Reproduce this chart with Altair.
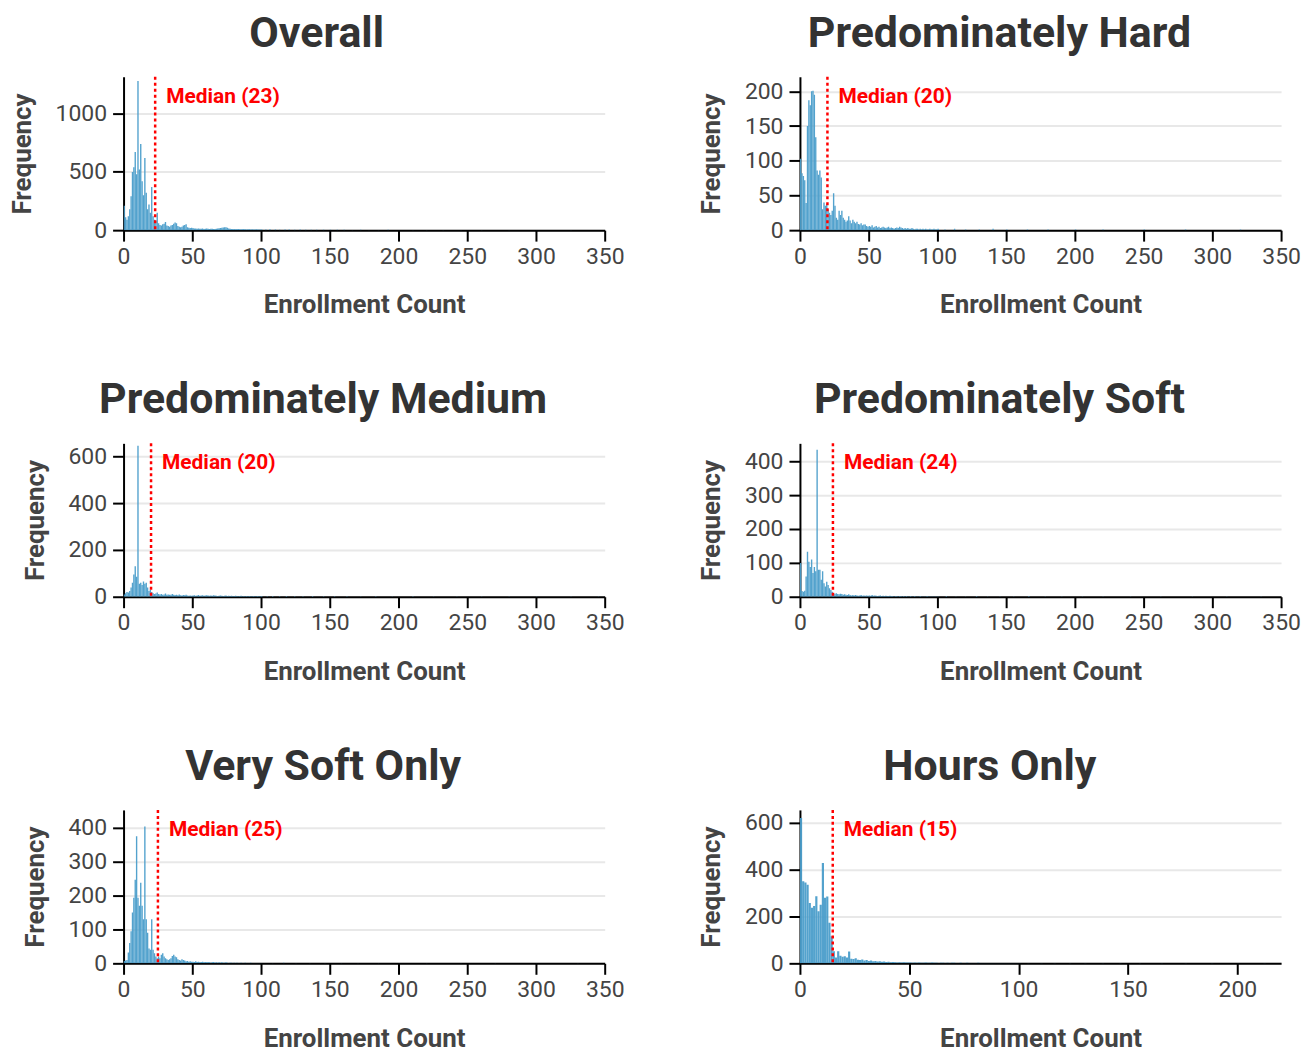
import altair as alt
import pandas as pd

# ---------------- data ----------------
titles = ["Overall", "Predominately Hard", "Predominately Medium",
          "Predominately Soft", "Very Soft Only", "Hours Only"]
medians = [23, 20, 20, 24, 25, 15]
x_max = [350, 350, 350, 350, 350, 220]
y_max = [1316, 221, 655, 453, 453, 655]
x_ticks_std = [0, 50, 100, 150, 200, 250, 300, 350]
x_ticks_hours = [0, 50, 100, 150, 200]
y_ticks = [
    [0, 500, 1000],
    [0, 50, 100, 150, 200],
    [0, 200, 400, 600],
    [0, 100, 200, 300, 400],
    [0, 100, 200, 300, 400],
    [0, 200, 400, 600],
]

# counts for enrollment values 0..49
overall_head = [210, 110, 90, 120, 180, 290, 500, 540, 670, 480,
                1280, 520, 740, 420, 300, 620, 320, 180, 220, 150,
                370, 120, 90, 80, 150, 60, 45, 40, 50, 55,
                70, 40, 35, 30, 40, 45, 55, 65, 60, 35,
                30, 25, 30, 40, 45, 50, 25, 20, 18, 20]
hard_head = [103, 82, 78, 72, 39, 150, 187, 180, 200, 201,
             195, 134, 86, 80, 86, 76, 30, 40, 35, 38,
             30, 25, 22, 28, 53, 35, 18, 15, 28, 22,
             28, 18, 15, 12, 14, 20, 14, 10, 15, 12,
             10, 12, 9, 8, 10, 7, 8, 8, 6, 5]
medium_head = [10, 15, 20, 18, 25, 40, 60, 95, 130, 85,
               645, 55, 60, 50, 65, 55, 60, 40, 25, 30,
               20, 15, 12, 14, 18, 12, 10, 12, 9, 10,
               14, 8, 10, 9, 8, 12, 8, 7, 9, 6,
               10, 6, 5, 7, 6, 8, 5, 4, 5, 4]
soft_head = [100, 17, 15, 18, 60, 133, 103, 88, 110, 70,
             88, 75, 434, 80, 80, 50, 75, 40, 30, 44,
             35, 25, 20, 15, 10, 9, 10, 8, 7, 9,
             8, 6, 7, 6, 5, 7, 5, 4, 5, 4,
             5, 4, 3, 4, 5, 3, 4, 3, 4, 3]
verysoft_head = [7, 8, 10, 32, 60, 95, 150, 194, 247, 375,
                 194, 170, 238, 170, 130, 404, 130, 90, 44, 40,
                 130, 40, 30, 20, 15, 20, 15, 25, 30, 20,
                 15, 12, 10, 12, 15, 22, 25, 20, 18, 12,
                 10, 8, 12, 10, 8, 6, 7, 5, 6, 5]
hours_head = [620, 350, 345, 335, 258, 237, 245, 286, 222, 250,
              428, 280, 285, 173, 116, 52, 25, 52, 32, 28,
              30, 25, 50, 20, 18, 22, 15, 14, 16, 12,
              14, 10, 12, 9, 10, 8, 9, 7, 8, 6,
              7, 5, 6, 5, 4, 5, 4, 5, 4, 3]

# counts for enrollment values 50..99
overall_tail = [18, 15, 14, 12, 15, 13, 12, 14, 11, 12,
                14, 12, 11, 13, 12, 10, 11, 12, 14, 16,
                18, 20, 22, 24, 26, 20, 15, 12, 11, 10,
                9, 8, 10, 9, 8, 7, 8, 9, 7, 6,
                7, 8, 6, 7, 6, 5, 7, 6, 5, 6]
hard_tail = [6, 5, 7, 4, 5, 6, 4, 5, 3, 4,
             5, 4, 3, 4, 5, 3, 4, 3, 2, 3,
             4, 3, 5, 4, 3, 2, 3, 2, 3, 2,
             2, 3, 2, 1, 2, 2, 1, 2, 1, 2,
             1, 2, 1, 1, 2, 1, 1, 2, 1, 1]
medium_tail = [5, 6, 4, 5, 7, 4, 5, 6, 4, 5,
               6, 5, 4, 5, 4, 6, 5, 4, 3, 4,
               5, 4, 3, 4, 5, 3, 4, 3, 4, 3,
               3, 4, 3, 2, 3, 4, 2, 3, 2, 3,
               2, 3, 2, 2, 3, 2, 2, 3, 2, 2]
soft_tail = [4, 3, 5, 3, 4, 3, 2, 3, 4, 2,
             3, 2, 3, 2, 2, 3, 2, 2, 1, 2,
             2, 1, 2, 2, 1, 2, 1, 2, 1, 1,
             2, 1, 1, 2, 1, 1, 1, 2, 1, 1,
             1, 1, 2, 1, 1, 1, 1, 1, 1, 1]
verysoft_tail = [5, 4, 6, 4, 5, 3, 4, 5, 3, 4,
                 3, 4, 3, 2, 3, 4, 2, 3, 2, 3,
                 2, 3, 2, 2, 3, 2, 1, 2, 2, 1,
                 2, 1, 2, 1, 1, 2, 1, 1, 2, 1,
                 1, 1, 2, 1, 1, 1, 1, 1, 1, 1]
hours_tail = [3, 2, 3, 2, 3, 2, 2, 3, 2, 2,
              3, 2, 2, 1, 2, 2, 1, 2, 1, 2,
              2, 1, 1, 2, 1, 1, 2, 1, 1, 1,
              1, 2, 1, 1, 1, 1, 1, 1, 1, 1,
              1, 1, 1, 1, 1, 1, 1, 1, 1, 1]

# sparse far tail (value, count) beyond 100
overall_far_x = [100, 103, 106, 110, 113, 117, 120, 124, 128, 132, 136, 140, 145, 150, 155,
                 160, 166, 172, 178, 185, 192, 200, 210, 220, 232, 245, 260, 280, 300, 325]
overall_far_y = [6, 5, 7, 5, 4, 6, 5, 4, 5, 4, 3, 4, 3, 4, 3,
                 3, 2, 3, 2, 2, 3, 2, 2, 1, 2, 1, 1, 1, 1, 1]
hard_far_x = [100, 105, 112, 120, 130, 140, 150, 165, 180, 200, 220, 250, 280, 320]
hard_far_y = [2, 1, 2, 1, 1, 2, 1, 1, 1, 1, 1, 1, 1, 1]
medium_far_x = [100, 104, 108, 113, 118, 124, 130, 137, 145, 153, 162, 172, 183, 195, 210,
                225, 242, 260, 280, 300, 325, 345]
medium_far_y = [3, 2, 3, 2, 3, 2, 2, 3, 2, 2, 2, 1, 2, 1, 2, 1, 1, 1, 1, 1, 1, 1]
soft_far_x = [100, 106, 113, 120, 128, 136, 145, 155, 166, 178, 190, 205, 220, 240, 262, 285, 310, 335]
soft_far_y = [1, 2, 1, 1, 2, 1, 1, 1, 2, 1, 1, 1, 1, 1, 1, 1, 1, 1]
verysoft_far_x = [100, 108, 116, 125, 135, 146, 158, 170, 185, 200, 220, 245, 270, 300, 330]
verysoft_far_y = [1, 1, 2, 1, 1, 1, 1, 1, 1, 1, 1, 1, 1, 1, 1]
hours_far_x = [100, 104, 110, 116, 123, 130, 138, 146, 155, 165, 176, 188, 200, 212]
hours_far_y = [1, 1, 1, 1, 1, 1, 1, 1, 1, 1, 1, 1, 1, 1]

heads = [overall_head, hard_head, medium_head, soft_head, verysoft_head, hours_head]
tails = [overall_tail, hard_tail, medium_tail, soft_tail, verysoft_tail, hours_tail]
fars = [(overall_far_x, overall_far_y), (hard_far_x, hard_far_y), (medium_far_x, medium_far_y),
        (soft_far_x, soft_far_y), (verysoft_far_x, verysoft_far_y), (hours_far_x, hours_far_y)]

BAR_COLOR = "#4a9dca"
FONT = "Roboto"


def panel(i):
    values = list(range(0, 100)) + list(fars[i][0])
    counts = list(heads[i]) + list(tails[i]) + list(fars[i][1])
    df = pd.DataFrame({"start": values, "count": counts})
    df["end"] = df["start"] + 1
    xt = x_ticks_hours if x_max[i] < 300 else x_ticks_std
    xscale = alt.Scale(domain=[0, x_max[i]], nice=False)
    yscale = alt.Scale(domain=[0, y_max[i]], nice=False)
    bars = alt.Chart(df).mark_bar(color=BAR_COLOR, clip=True, opacity=0.95).encode(
        x=alt.X("start:Q", scale=xscale,
                axis=alt.Axis(title="Enrollment Count", values=xt, grid=False, format="d")),
        x2="end:Q",
        y=alt.Y("count:Q", scale=yscale,
                axis=alt.Axis(title="Frequency", values=y_ticks[i], grid=True, format="d")),
        y2=alt.datum(0),
    )
    mdf = pd.DataFrame({"start": [medians[i]], "label": [f"Median ({medians[i]})"]})
    rule = alt.Chart(mdf).mark_rule(color="red", strokeDash=[3, 3], strokeWidth=2.5).encode(
        x=alt.X("start:Q", scale=xscale)
    )
    text = alt.Chart(mdf).mark_text(color="red", fontWeight="bold", fontSize=21, font=FONT,
                                    align="left", baseline="middle", dx=11).encode(
        x=alt.X("start:Q", scale=xscale),
        y=alt.value(20),
        text="label:N",
    )
    return alt.layer(bars, rule, text).properties(
        width=483, height=154,
        title=alt.TitleParams(titles[i], frame="bounds", anchor="middle")
    )


chart = alt.concat(*[panel(i) for i in range(6)], columns=2,
                   spacing={"row": 61, "column": 74}).properties(
    padding={"left": 1, "top": 2, "right": 0, "bottom": 0}
).configure_view(stroke=None).configure_axis(
    domainColor="black", domainWidth=2, tickColor="black", tickWidth=2, tickSize=11,
    labelFont=FONT, labelFontSize=23, labelColor="#444",
    titleFont=FONT, titleFontSize=26, titleFontWeight="bold", titleColor="#444",
    gridColor="#e8e8e8", gridWidth=2,
).configure_axisX(titlePadding=24, labelPadding=4, labelFlush=False).configure_axisY(
    titlePadding=20, labelPadding=6
).configure_title(
    font=FONT, fontSize=43, fontWeight="bold", color="#333", offset=20
)

chart.save("out.html", embed_options={"renderer": "svg", "actions": False})
